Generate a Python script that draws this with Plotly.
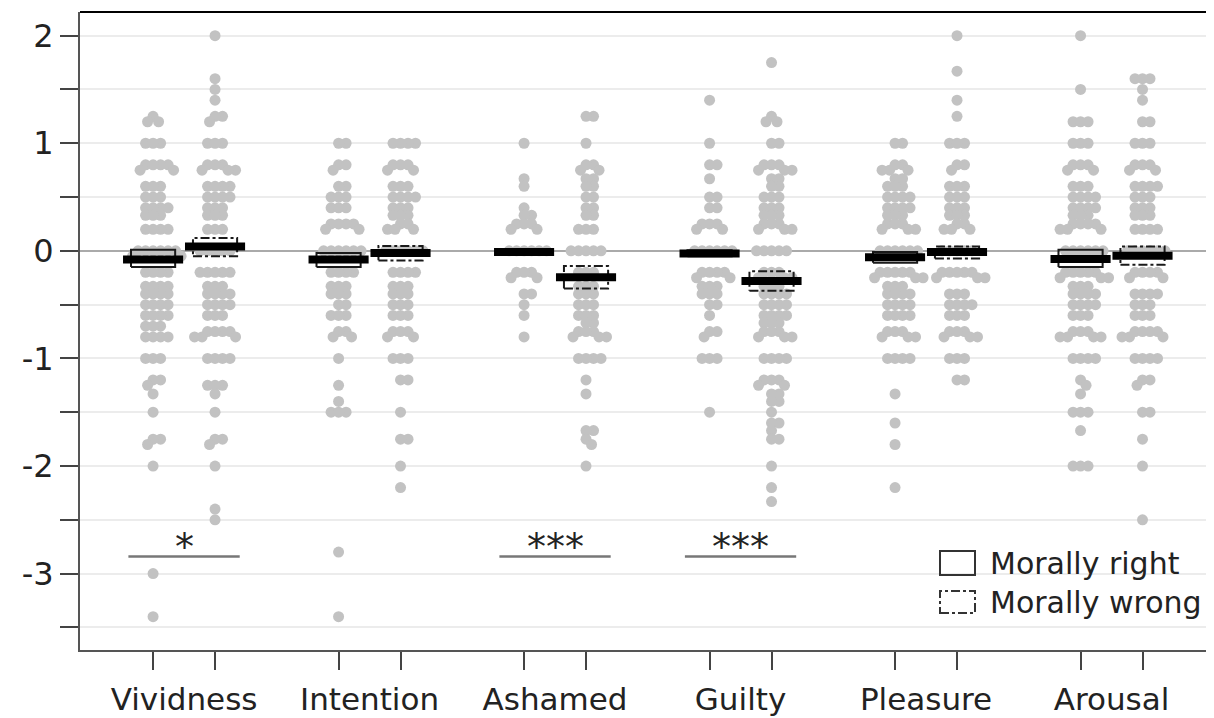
import numpy as np
import plotly.graph_objects as go

categories = ["Vividness", "Intention", "Ashamed", "Guilty", "Pleasure", "Arousal"]
conditions = ["Morally right", "Morally wrong"]

# ---- individual scores as (value levels, number of points at each level) ----
viv_right_lv = [1.25, 1.2, 1.0, 0.8, 0.75, 0.6, 0.5, 0.4, 0.33, 0.2, 0.0, -0.05, -0.2, -0.33, -0.4, -0.5, -0.6, -0.7, -0.8, -1.0, -1.2, -1.25, -1.33, -1.5, -1.75, -1.8, -2.0, -3.0, -3.4]
viv_right_n = [1, 2, 3, 4, 2, 3, 3, 4, 3, 4, 6, 2, 4, 4, 4, 4, 4, 3, 4, 3, 2, 1, 1, 1, 2, 1, 1, 1, 1]

viv_wrong_lv = [2.0, 1.6, 1.5, 1.4, 1.25, 1.2, 1.0, 0.8, 0.75, 0.6, 0.5, 0.4, 0.33, 0.2, 0.0, -0.2, -0.33, -0.4, -0.5, -0.6, -0.75, -0.8, -1.0, -1.25, -1.33, -1.5, -1.75, -1.8, -2.0, -2.4, -2.5]
viv_wrong_n = [1, 1, 1, 1, 2, 1, 3, 3, 3, 4, 4, 3, 3, 3, 5, 5, 3, 4, 4, 3, 4, 3, 4, 3, 1, 1, 2, 1, 1, 1, 1]

int_right_lv = [1.0, 0.8, 0.75, 0.6, 0.5, 0.4, 0.25, 0.2, 0.0, -0.2, -0.33, -0.4, -0.5, -0.6, -0.75, -0.8, -1.0, -1.25, -1.4, -1.5, -2.8, -3.4]
int_right_n = [2, 2, 1, 2, 3, 3, 4, 2, 6, 4, 3, 3, 2, 3, 2, 2, 1, 1, 1, 3, 1, 1]

int_wrong_lv = [1.0, 0.8, 0.75, 0.6, 0.5, 0.4, 0.33, 0.25, 0.2, 0.0, -0.2, -0.33, -0.4, -0.5, -0.6, -0.75, -0.8, -1.0, -1.2, -1.5, -1.75, -2.0, -2.2]
int_wrong_n = [4, 3, 2, 3, 4, 3, 3, 2, 3, 6, 4, 3, 3, 3, 3, 3, 2, 3, 2, 1, 2, 1, 1]

ash_right_lv = [1.0, 0.67, 0.6, 0.4, 0.33, 0.25, 0.2, 0.0, -0.2, -0.25, -0.4, -0.5, -0.6, -0.8]
ash_right_n = [1, 1, 1, 1, 2, 3, 2, 6, 3, 2, 2, 1, 1, 1]

ash_wrong_lv = [1.25, 1.0, 0.8, 0.75, 0.67, 0.6, 0.5, 0.4, 0.33, 0.2, 0.0, -0.2, -0.33, -0.4, -0.5, -0.6, -0.67, -0.75, -0.8, -1.0, -1.2, -1.33, -1.67, -1.75, -1.8, -2.0]
ash_wrong_n = [2, 1, 2, 2, 2, 2, 2, 2, 2, 3, 5, 3, 3, 3, 3, 3, 2, 3, 3, 4, 1, 1, 2, 1, 1, 1]

gui_right_lv = [1.4, 1.0, 0.8, 0.67, 0.5, 0.4, 0.25, 0.2, 0.0, -0.2, -0.25, -0.33, -0.4, -0.5, -0.6, -0.75, -0.8, -1.0, -1.5]
gui_right_n = [1, 1, 2, 1, 2, 2, 3, 2, 6, 4, 2, 3, 3, 2, 1, 2, 1, 3, 1]

gui_wrong_lv = [1.75, 1.25, 1.2, 1.0, 0.8, 0.75, 0.67, 0.6, 0.5, 0.4, 0.33, 0.25, 0.2, 0.0, -0.2, -0.25, -0.33, -0.4, -0.5, -0.6, -0.67, -0.75, -0.8, -1.0, -1.2, -1.25, -1.33, -1.4, -1.5, -1.6, -1.67, -1.75, -2.0, -2.2, -2.33]
gui_wrong_n = [1, 1, 2, 2, 3, 3, 2, 2, 3, 3, 3, 3, 3, 5, 3, 3, 3, 4, 4, 4, 3, 3, 3, 4, 3, 2, 2, 2, 1, 2, 1, 2, 1, 1, 1]

ple_right_lv = [1.0, 0.8, 0.75, 0.67, 0.6, 0.5, 0.4, 0.33, 0.25, 0.2, 0.0, -0.2, -0.25, -0.33, -0.4, -0.5, -0.6, -0.75, -0.8, -1.0, -1.33, -1.6, -1.8, -2.2]
ple_right_n = [2, 2, 3, 2, 3, 4, 4, 3, 3, 3, 6, 5, 3, 3, 4, 4, 4, 3, 3, 4, 1, 1, 1, 1]

ple_wrong_lv = [2.0, 1.67, 1.4, 1.25, 1.0, 0.8, 0.75, 0.6, 0.5, 0.4, 0.33, 0.25, 0.2, 0.0, -0.2, -0.25, -0.4, -0.5, -0.6, -0.75, -0.8, -1.0, -1.2]
ple_wrong_n = [1, 1, 1, 1, 3, 2, 1, 3, 3, 3, 3, 2, 3, 5, 5, 3, 3, 4, 3, 3, 3, 3, 2]

aro_right_lv = [2.0, 1.5, 1.2, 1.0, 0.8, 0.75, 0.6, 0.5, 0.4, 0.33, 0.25, 0.2, 0.0, -0.2, -0.25, -0.33, -0.4, -0.5, -0.6, -0.75, -0.8, -1.0, -1.2, -1.25, -1.33, -1.5, -1.67, -2.0]
aro_right_n = [1, 1, 3, 3, 3, 2, 3, 4, 4, 3, 4, 3, 6, 5, 3, 3, 4, 4, 3, 3, 4, 4, 1, 1, 1, 3, 1, 3]

aro_wrong_lv = [1.6, 1.5, 1.4, 1.2, 1.0, 0.8, 0.75, 0.6, 0.5, 0.4, 0.33, 0.2, 0.0, -0.2, -0.25, -0.4, -0.5, -0.6, -0.75, -0.8, -1.0, -1.2, -1.25, -1.5, -1.75, -2.0, -2.5]
aro_wrong_n = [3, 1, 1, 2, 3, 3, 2, 4, 3, 3, 3, 4, 6, 4, 2, 4, 3, 3, 4, 3, 4, 2, 1, 2, 1, 1, 1]

# ---- means and 95% CI ----
right_mean = [-0.08, -0.08, -0.01, -0.025, -0.06, -0.075]
right_lo = [-0.15, -0.15, -0.035, -0.05, -0.11, -0.15]
right_hi = [0.01, -0.02, 0.015, 0.005, -0.01, 0.01]
wrong_mean = [0.04, -0.02, -0.245, -0.28, -0.01, -0.045]
wrong_lo = [-0.05, -0.09, -0.35, -0.37, -0.07, -0.13]
wrong_hi = [0.12, 0.045, -0.14, -0.19, 0.04, 0.04]

# ---- significance markers ----
sig_categories = ["Vividness", "Ashamed", "Guilty"]
sig_labels = ["*", "***", "***"]
sig_level = -2.84

# ---- axis ticks ----
y_tick_vals = [2, 1.5, 1, 0.5, 0, -0.5, -1, -1.5, -2, -2.5, -3, -3.5]
y_tick_text = ["2", "", "1", "", "0", "", "-1", "", "-2", "", "-3", ""]

right_groups = [(viv_right_lv, viv_right_n), (int_right_lv, int_right_n), (ash_right_lv, ash_right_n),
                (gui_right_lv, gui_right_n), (ple_right_lv, ple_right_n), (aro_right_lv, aro_right_n)]
wrong_groups = [(viv_wrong_lv, viv_wrong_n), (int_wrong_lv, int_wrong_n), (ash_wrong_lv, ash_wrong_n),
                (gui_wrong_lv, gui_wrong_n), (ple_wrong_lv, ple_wrong_n), (aro_wrong_lv, aro_wrong_n)]

# style / layout constants (page body has an 8px margin)
W, H = 1206, 710
ML, MR, MT, MB = 72, 1, 4, 68
X_RANGE = [-0.561, 5.547]
Y_RANGE = [-3.71, 2.22]
OFF = 0.167          # half distance between the two conditions
LINE_HW = 0.162      # half width of mean line
BOX_HW = 0.119       # half width of CI box
PT_COLOR = "#c2c2c2"
DOT = 11

px_x = (W - ML - MR) / (X_RANGE[1] - X_RANGE[0])
px_y = (H - MT - MB) / (Y_RANGE[1] - Y_RANGE[0])


def expand(levels, counts):
    out = []
    for v, n in zip(levels, counts):
        out.extend([v] * n)
    return out


def swarm(values, d=7.5):
    """beeswarm offsets (in x data units) computed in pixel space"""
    order = np.argsort(values, kind="stable")[::-1]
    placed = []
    offs = np.zeros(len(values))
    for idx in order:
        y = values[idx] * px_y
        near = [(px, py) for px, py in placed if abs(py - y) < d]
        chosen = 0.0
        for k in range(0, 400):
            cands = [0.0] if k == 0 else [k * 0.5, -k * 0.5]
            found = False
            for x in cands:
                if all((x - px) ** 2 + (y - py) ** 2 >= d * d for px, py in near):
                    chosen = x
                    found = True
                    break
            if found:
                break
        placed.append((chosen, y))
        offs[idx] = chosen / px_x
    return offs


fig = go.Figure()

centers = list(range(len(categories)))
for ci, c in enumerate(centers):
    for side, groups in ((-1, right_groups), (1, wrong_groups)):
        lv, n = groups[ci]
        vals = np.array(expand(lv, n), dtype=float)
        offs = swarm(vals)
        xc = c + side * OFF
        fig.add_trace(go.Scatter(
            x=xc + offs, y=vals, mode="markers",
            marker=dict(color=PT_COLOR, size=DOT, line=dict(width=0)),
            showlegend=False, hoverinfo="y"))

# CI boxes and mean lines
for side, means, los, his, dash in ((-1, right_mean, right_lo, right_hi, "solid"),
                                    (1, wrong_mean, wrong_lo, wrong_hi, "dashdot")):
    for ci, c in enumerate(centers):
        xc = c + side * OFF
        fig.add_trace(go.Scatter(
            x=[xc - BOX_HW, xc + BOX_HW, xc + BOX_HW, xc - BOX_HW, xc - BOX_HW],
            y=[los[ci], los[ci], his[ci], his[ci], los[ci]],
            mode="lines", line=dict(color="#1a1a1a", width=2, dash=dash),
            showlegend=False, hoverinfo="skip"))
        fig.add_trace(go.Scatter(
            x=[xc - LINE_HW, xc + LINE_HW], y=[means[ci], means[ci]],
            mode="lines", line=dict(color="black", width=8),
            showlegend=False, hoverinfo="skip"))

# significance bars
for lab, cat in zip(sig_labels, sig_categories):
    c = categories.index(cat)
    fig.add_trace(go.Scatter(
        x=[c - 0.3, c + 0.3], y=[sig_level, sig_level], mode="lines",
        line=dict(color="#777777", width=2.5), showlegend=False, hoverinfo="skip"))
    fig.add_annotation(x=c, y=sig_level, text=lab, showarrow=False,
                       yanchor="bottom", yshift=-15, font=dict(size=38, color="#222"))

# invisible trace for category axis
fig.add_trace(go.Scatter(x=centers, y=[0] * len(centers), xaxis="x2", mode="markers",
                         marker=dict(opacity=0), showlegend=False, hoverinfo="skip"))

tick_positions = []
for c in centers:
    tick_positions += [c - OFF, c + OFF]

FONT = "DejaVu Sans, Verdana, sans-serif"
fig.update_layout(
    width=W, height=H,
    margin=dict(l=ML, r=MR, t=MT, b=MB),
    paper_bgcolor="white", plot_bgcolor="white",
    font=dict(family=FONT, size=31, color="#222"),
    showlegend=False,
    xaxis=dict(range=X_RANGE, tickvals=tick_positions, showticklabels=False,
               ticks="outside", ticklen=18, tickwidth=1.5, tickcolor="#444",
               showgrid=False, zeroline=False, showline=True, linecolor="#555",
               linewidth=2, automargin=False, fixedrange=True),
    xaxis2=dict(range=X_RANGE, overlaying="x", side="bottom", tickvals=centers,
                ticktext=categories, ticks="outside", ticklen=22,
                tickcolor="rgba(0,0,0,0)", showgrid=False, zeroline=False,
                showline=False, automargin=False, tickfont=dict(size=31)),
    yaxis=dict(range=Y_RANGE, tickvals=y_tick_vals, ticktext=y_tick_text,
               ticks="outside", ticklen=18, tickwidth=1.5, tickcolor="#444",
               showgrid=True, gridcolor="#ececec", gridwidth=1.5,
               zeroline=True, zerolinecolor="#aaaaaa", zerolinewidth=1.5,
               showline=True, linecolor="#555", linewidth=2,
               automargin=False, tickfont=dict(size=32)),
)

# frame top/right
fig.add_shape(type="line", xref="paper", yref="paper", x0=0, x1=1, y0=1, y1=1,
              line=dict(color="black", width=2))
fig.add_shape(type="line", xref="paper", yref="paper", x0=1, x1=1, y0=0, y1=1,
              line=dict(color="#cccccc", width=1))

# manual legend (positions given in page pixels)
pw, ph = W - ML - MR, H - MT - MB
PAGE_OFF = 8
def px2paper(x, y):
    return (x - PAGE_OFF - ML) / pw, (H - MB - (y - PAGE_OFF)) / ph

for (y0, y1, dash, label, ty) in ((551, 575, "solid", conditions[0], 563),
                                  (591, 613, "dashdot", conditions[1], 602)):
    xa, ya = px2paper(940, y0)
    xb, yb = px2paper(975, y1)
    fig.add_shape(type="rect", xref="paper", yref="paper", x0=xa, x1=xb, y0=yb, y1=ya,
                  line=dict(color="#333", width=2, dash=dash))
    tx, tyy = px2paper(988, ty)
    fig.add_annotation(xref="paper", yref="paper", x=tx, y=tyy, text=label,
                       showarrow=False, xanchor="left", yanchor="middle",
                       font=dict(size=30, color="#222"))

fig.write_html("out.html")
